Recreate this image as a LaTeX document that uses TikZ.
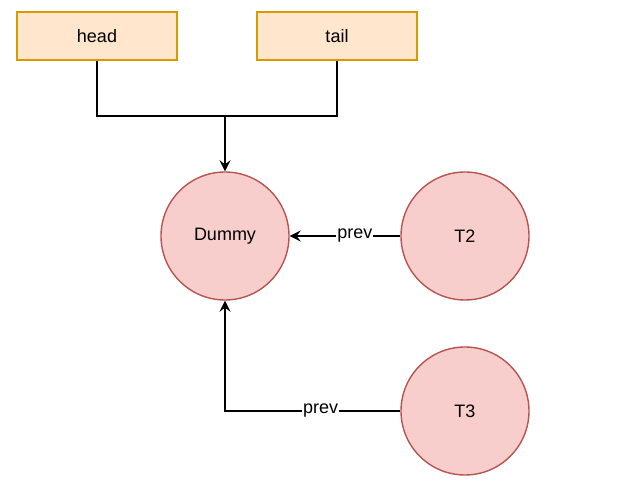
\documentclass[tikz,border=0pt]{standalone}
\usepackage{fontspec}
\setmainfont{Liberation Sans}
\usetikzlibrary{arrows.meta,positioning}

\definecolor{boxfill}{HTML}{FFE6CC}
\definecolor{boxline}{HTML}{D79B00}
\definecolor{nodefill}{HTML}{F8CECC}
\definecolor{nodeline}{HTML}{B85450}

\begin{document}
\begin{tikzpicture}[>={Stealth[length=11pt,width=11pt,inset=4pt]},x=1pt,y=-1pt,
  font=\fontsize{18}{21}\selectfont,
  ptr/.style={draw=boxline,fill=boxfill,line width=1.4pt,minimum width=160pt,minimum height=48pt},
  elem/.style={circle,draw=nodeline,fill=nodefill,line width=1.4pt,minimum size=128pt},
  link/.style={->,line width=1.5pt},
  lbl/.style={fill=white,inner sep=1pt}]

  \useasboundingbox (0,0) rectangle (633,494);

  \node[ptr] (head) at (97,36) {head};
  \node[ptr] (tail) at (337,36) {tail};
  \node[elem] (dummy) at (225,236) {Dummy};
  \node[elem] (t2) at (465,236) {T2};
  \node[elem] (t3) at (465,411) {T3};

  \coordinate (join) at (225,116);

  \draw[line width=1.5pt] (head.south) |- (join);
  \draw[line width=1.5pt] (tail.south) |- (join);
  \draw[link] (join) -- (dummy.north);

  \draw[link] (t2.west) -- node[lbl,pos=0.41] {prev} (dummy.east);
  \draw[link] (t3.west) -| node[lbl,pos=0.227] {prev} (dummy.south);
\end{tikzpicture}
\end{document}
